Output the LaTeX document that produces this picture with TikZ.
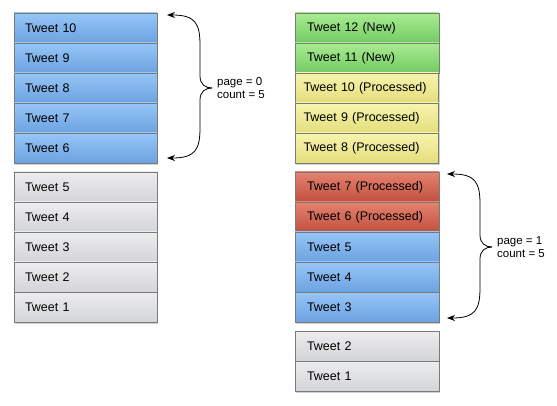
\documentclass[tikz,border=0pt]{standalone}
\usepackage{fontspec}
\setmainfont{Liberation Sans}
\usetikzlibrary{calc,arrows.meta,positioning}
\definecolor{blueT}{HTML}{96C6F7}
\definecolor{blueB}{HTML}{6CA2E0}
\definecolor{grayT}{HTML}{EDEDEF}
\definecolor{grayB}{HTML}{D3D4D7}
\definecolor{greenT}{HTML}{A8EC92}
\definecolor{greenB}{HTML}{74CA63}
\definecolor{yelT}{HTML}{F7F5AE}
\definecolor{yelB}{HTML}{E4DD7C}
\definecolor{redT}{HTML}{E5826F}
\definecolor{redB}{HTML}{C0503F}
\definecolor{edge}{HTML}{7A7A7A}
\begin{document}
\begin{tikzpicture}[x=1pt,y=-1pt,
  row/.style={draw=edge, line width=0.7pt, minimum height=30pt, inner ysep=0pt,
    outer sep=0pt, inner xsep=11pt, text width=121pt, align=left, anchor=north west,
    font=\fontsize{12.5}{15}\selectfont},
  wrow/.style={row, inner xsep=8pt, text width=127pt},
  rrow/.style={row, inner xsep=12pt, text width=120pt},
  blue/.style={top color=blueT, bottom color=blueB},
  grey/.style={top color=grayT, bottom color=grayB},
  green/.style={top color=greenT, bottom color=greenB},
  yel/.style={top color=yelT, bottom color=yelB},
  red/.style={top color=redT, bottom color=redB},
  shad/.style={fill=black, opacity=0.18},
  brace/.style={line width=0.8pt, {Stealth[length=8pt,width=6pt]}-},
  lab/.style={anchor=west, inner xsep=5pt, align=left, font=\fontsize{11.5}{13}\selectfont}
]
\useasboundingbox (0,0) rectangle (557,406);
% shadows
\fill[shad] (14.5,15) rectangle (158,165);
\fill[shad] (14.5,174) rectangle (158,324);
\fill[shad] (295.5,15) rectangle (440,165);
\fill[shad] (295.5,174) rectangle (440,324);
\fill[shad] (295.5,333) rectangle (440,393);
% left column, top group
\node[row,blue] (l10) at (14,13) {Tweet 10};
\node[row,blue,below=0pt of l10] (l9) {Tweet 9};
\node[row,blue,below=0pt of l9] (l8) {Tweet 8};
\node[row,blue,below=0pt of l8] (l7) {Tweet 7};
\node[row,blue,below=0pt of l7] (l6) {Tweet 6};
% left column, bottom group
\node[row,grey] (l5) at (14,172) {Tweet 5};
\node[row,grey,below=0pt of l5] (l4) {Tweet 4};
\node[row,grey,below=0pt of l4] (l3) {Tweet 3};
\node[row,grey,below=0pt of l3] (l2) {Tweet 2};
\node[row,grey,below=0pt of l2] (l1) {Tweet 1};
% right column, top group
\node[rrow,green] (r12) at (295,13) {Tweet 12 (New)};
\node[rrow,green,below=0pt of r12] (r11) {Tweet 11 (New)};
\node[wrow,yel,below=0pt of r11] (r10) {Tweet 10 (Processed)};
\node[wrow,yel,below=0pt of r10] (r9) {Tweet 9 (Processed)};
\node[wrow,yel,below=0pt of r9] (r8) {Tweet 8 (Processed)};
% right column, middle group
\node[rrow,red] (r7) at (295,172) {Tweet 7 (Processed)};
\node[rrow,red,below=0pt of r7] (r6) {Tweet 6 (Processed)};
\node[rrow,blue,below=0pt of r6] (r5) {Tweet 5};
\node[rrow,blue,below=0pt of r5] (r4) {Tweet 4};
\node[rrow,blue,below=0pt of r4] (r3) {Tweet 3};
% right column, bottom group
\node[rrow,grey] (r2) at (295,331) {Tweet 2};
\node[rrow,grey,below=0pt of r2] (r1) {Tweet 1};
% labels
\node[lab] (p0) at (212,88) {page = 0\\count = 5};
\node[lab] (p1) at (492,247) {page = 1\\count = 5};
% brace ends
\coordinate (a0) at ($(l10.north east)+(10,2)$);
\coordinate (b0) at ($(l6.south east)+(10,-5)$);
\coordinate (a1) at ($(r7.north east)+(8,2)$);
\coordinate (b1) at ($(r3.south east)+(8,-4)$);
% braces
\draw[brace] (a0) .. controls ($(a0)+(28,0)$) and ($(a0)+(33,8)$) .. ($(a0)+(33,30)$)
  -- ($(p0.west)+(-12,-12)$) .. controls ($(p0.west)+(-12,-3)$) and ($(p0.west)+(-6,0)$) .. (p0.west);
\draw[brace] (b0) .. controls ($(b0)+(28,0)$) and ($(b0)+(33,-8)$) .. ($(b0)+(33,-30)$)
  -- ($(p0.west)+(-12,12)$) .. controls ($(p0.west)+(-12,3)$) and ($(p0.west)+(-6,0)$) .. (p0.west);
\draw[brace] (a1) .. controls ($(a1)+(28,0)$) and ($(a1)+(33,8)$) .. ($(a1)+(33,30)$)
  -- ($(p1.west)+(-12,-12)$) .. controls ($(p1.west)+(-12,-3)$) and ($(p1.west)+(-6,0)$) .. (p1.west);
\draw[brace] (b1) .. controls ($(b1)+(28,0)$) and ($(b1)+(33,-8)$) .. ($(b1)+(33,-30)$)
  -- ($(p1.west)+(-12,12)$) .. controls ($(p1.west)+(-12,3)$) and ($(p1.west)+(-6,0)$) .. (p1.west);
\end{tikzpicture}
\end{document}
